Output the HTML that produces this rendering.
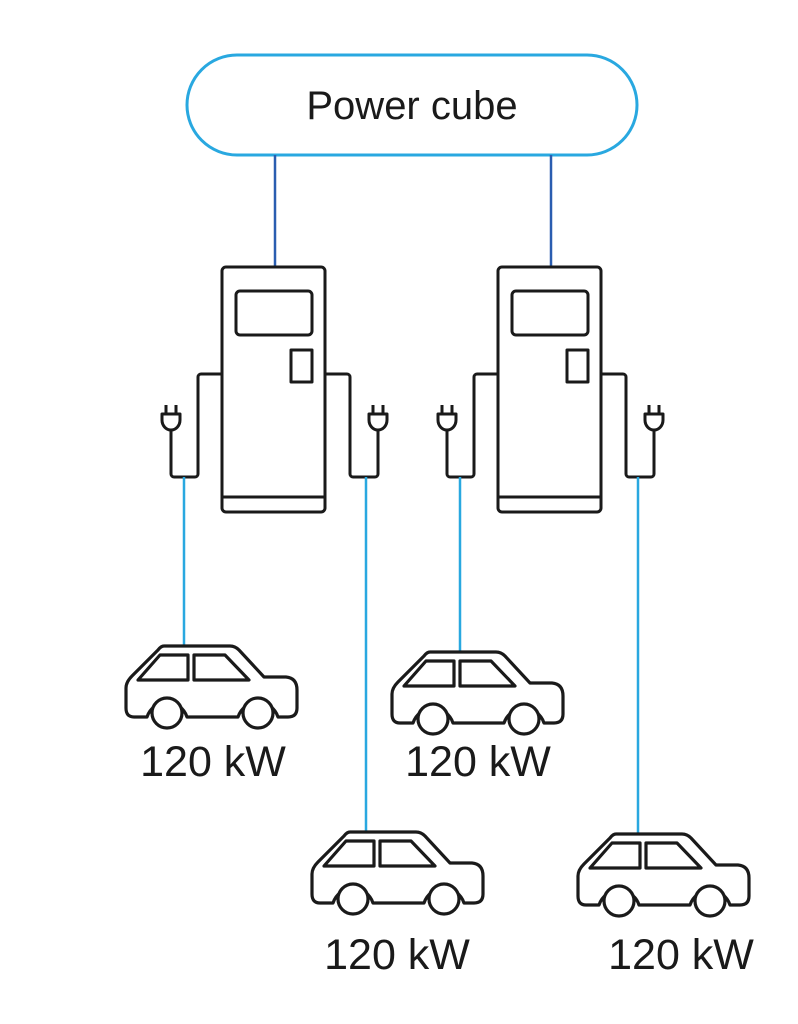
<!DOCTYPE html>
<html><head><meta charset="utf-8"><style>
html,body{margin:0;padding:0;background:#fff;}
svg{display:block}
text{font-family:"Liberation Sans",sans-serif;fill:#1a1a1a}
</style></head><body>
<svg width="798" height="1024" viewBox="0 0 798 1024" xmlns="http://www.w3.org/2000/svg">
<defs>
<g id="charger" fill="none" stroke="#1a1a1a" stroke-width="3" stroke-linejoin="round">
  <rect x="222" y="267" width="103" height="245" rx="4"/>
  <line x1="222" y1="497" x2="325" y2="497"/>
  <rect x="236" y="291" width="76" height="44" rx="4"/>
  <rect x="291" y="350" width="21" height="32"/>
  <path d="M222 374 H201 a3 3 0 0 0 -3 3 V474 a3 3 0 0 1 -3 3 H174 a3 3 0 0 1 -3 -3 V430"/>
  <path d="M325 374 H347 a3 3 0 0 1 3 3 V474 a3 3 0 0 0 3 3 H375 a3 3 0 0 0 3 -3 V430"/>
  <path d="M162 414 H180 V420 a9 10 0 0 1 -18 0 Z M166 414 V405 M176 414 V405"/>
  <path d="M369 414 H387 V420 a9 10 0 0 1 -18 0 Z M373 414 V405 M383 414 V405"/>
</g>
<g id="car" fill="none" stroke="#1a1a1a" stroke-width="3.2" stroke-linejoin="round">
  <path d="M38 0 H104 Q109 0 113 4 L138 31 H160 Q171 32 171 44 V62 Q171 71 162 71 H152 A21 21 0 0 0 112 71 H61 A21 21 0 0 0 21 71 H8 Q0 71 0 62 V42 Q0 36 6 30 L32 4 Q35 0 38 0 Z"/>
  <path d="M12 34 L34 9 H62 V34 Z"/>
  <path d="M68 9 H99 L123 34 H68 Z"/>
  <circle cx="41" cy="67" r="15" fill="#fff"/>
  <circle cx="132" cy="67" r="15" fill="#fff"/>
</g>
</defs>
<rect x="187" y="55" width="450" height="100" rx="50" fill="#fff" stroke="#29a8e0" stroke-width="3"/>
<text x="412" y="119" font-size="40" text-anchor="middle">Power cube</text>
<line x1="275" y1="155" x2="275" y2="267" stroke="#2a5db0" stroke-width="2.5"/>
<line x1="551" y1="155" x2="551" y2="267" stroke="#2a5db0" stroke-width="2.5"/>
<use href="#charger"/>
<use href="#charger" transform="translate(276,0)"/>
<g stroke="#29a8e0" stroke-width="2.5">
<line x1="184" y1="477" x2="184" y2="646"/>
<line x1="366" y1="477" x2="366" y2="832"/>
<line x1="460" y1="477" x2="460" y2="652"/>
<line x1="638" y1="477" x2="638" y2="834"/>
</g>
<use href="#car" transform="translate(126,646)"/>
<use href="#car" transform="translate(312,832)"/>
<use href="#car" transform="translate(392,652)"/>
<use href="#car" transform="translate(578,834)"/>
<g font-size="43" text-anchor="middle">
<text x="213" y="776">120 kW</text>
<text x="397" y="969">120 kW</text>
<text x="478" y="776">120 kW</text>
<text x="681" y="969">120 kW</text>
</g>
</svg>
</body></html>
